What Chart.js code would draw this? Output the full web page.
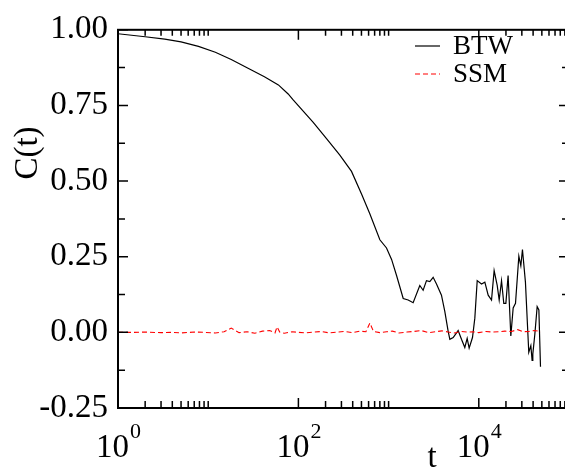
<!DOCTYPE html>
<html>
<head>
<meta charset="utf-8">
<script src="https://cdn.jsdelivr.net/npm/chart.js@4.4.1/dist/chart.umd.min.js"></script>
<style>
  html, body { margin: 0; padding: 0; background: #fff; overflow: hidden; }
  #wrap { width: 600px; height: 469px; }
</style>
</head>
<body>
<div id="wrap"><canvas id="corrChart" width="600" height="469"></canvas></div>
<script>
// autocorrelation C(t), BTW sandpile
const btwT = [1, 2, 3.3, 5, 7.8, 12, 18, 28, 42, 60, 77, 87, 146, 205, 288, 388, 501, 619, 800, 948, 1079, 1225, 1452, 1648, 1871,
    2218, 2415, 2630, 2864, 3119, 3396, 3855, 4198, 4571, 4775, 5200, 5902, 6427, 6998, 7430, 7816,
    8511, 9036, 9600, 10715, 11668, 12706, 13836, 14791, 15996, 16827, 17865, 18923, 19953, 21135,
    22646, 24044, 25527, 27797, 29242, 30479, 32885, 35810, 37757, 38994, 39719, 41783, 44361, 46345, 48306];
const btwC = [0.987, 0.977, 0.969, 0.960, 0.945, 0.926, 0.902, 0.872, 0.845, 0.818, 0.788, 0.769, 0.694, 0.640, 0.586, 0.532, 0.457, 0.392, 0.306, 0.279, 0.241, 0.188, 0.112, 0.107, 0.098,
    0.155, 0.139, 0.171, 0.168, 0.182, 0.160, 0.123, 0.069, 0.004, -0.023, -0.017, 0.006, -0.023, -0.050, -0.020, -0.052,
    -0.017, 0.047, 0.171, 0.160, 0.166, 0.123, 0.107, 0.204, 0.155, 0.107, 0.171, 0.096, 0.096, 0.188,
    -0.012, 0.081, 0.096, 0.252, 0.220, 0.274, 0.166, -0.066, -0.044, -0.093, -0.071, -0.007, 0.085, 0.074, -0.114];

// SSM stays around zero
const ssmT = [1, 1.5, 2, 3, 4, 5, 7, 9, 12, 15, 18, 22, 27, 33, 40, 48, 55, 58, 62, 70, 85, 100, 120, 150, 180,
    220, 270, 330, 400, 480, 560, 620, 680, 800, 950, 1100, 1300, 1600, 1900, 2300, 2800, 3300, 3900, 4600,
    5400, 6300, 7400, 8700, 10000, 12000, 14000, 16500, 19500, 23000, 27000, 31000, 36000, 41000, 46000, 48300];
const ssmC = [0, 0, 0.001, -0.001, 0, -0.002, 0.001, 0, -0.002, 0.002, 0.014, -0.001, 0.002, -0.003, 0.004, 0.006, -0.002, 0.018, 0.001, -0.003, 0.002, 0, -0.002, 0.001, 0.003,
    -0.002, 0.001, 0.003, -0.001, 0.004, 0.002, 0.031, 0.003, -0.001, 0.002, 0.004, -0.002, 0.001, 0.003, 0.006,
    -0.001, 0.002, 0.005, 0.001, -0.002, 0.003, 0.001, 0.002, -0.001, 0.003, 0.001, 0.002, 0.004, 0.003, 0.009, 0.002, 0.003, 0.006, 0.004, 0.001];

const seriesLabels = ['BTW', 'SSM'];
const yTickStep = 0.25;
const xMajorDecades = [1, 100, 10000];

const serif = "'Liberation Serif', 'Times New Roman', serif";

function toPoints(xs, ys) {
    return xs.map((x, i) => ({ x: x, y: ys[i] }));
}

// frame with inward ticks on all four sides, exponent labels, axis titles, legend
const decorations = {
    id: 'decorations',
    afterDraw(chart) {
        const ctx = chart.ctx;
        const a = chart.chartArea;
        const xs = chart.scales.x;
        const ys = chart.scales.y;
        ctx.save();
        ctx.strokeStyle = '#000';
        ctx.fillStyle = '#000';

        ctx.lineWidth = 2;
        ctx.strokeRect(a.left, a.top, a.right - a.left, a.bottom - a.top);

        ctx.lineWidth = 1.5;
        ctx.beginPath();
        xMajorDecades.forEach(m => {
            const px = xs.getPixelForValue(m);
            ctx.moveTo(px, a.bottom); ctx.lineTo(px, a.bottom - 10);
            ctx.moveTo(px, a.top); ctx.lineTo(px, a.top + 10);
            for (let k = 2; k <= 10; k++) {
                const mx = xs.getPixelForValue(m * k);
                ctx.moveTo(mx, a.bottom); ctx.lineTo(mx, a.bottom - 7);
                ctx.moveTo(mx, a.top); ctx.lineTo(mx, a.top + 6);
            }
        });
        for (let v = ys.min; v <= ys.max + 1e-9; v += yTickStep / 2) {
            const py = ys.getPixelForValue(v);
            const major = Math.abs(v / yTickStep - Math.round(v / yTickStep)) < 1e-6;
            const len = major ? 10 : 7;
            ctx.moveTo(a.left, py); ctx.lineTo(a.left + len, py);
            ctx.moveTo(a.right, py); ctx.lineTo(a.right - len, py);
        }
        ctx.stroke();

        // 10^n labels under the major ticks
        ctx.textBaseline = 'alphabetic';
        ctx.textAlign = 'left';
        xMajorDecades.forEach(m => {
            const px = xs.getPixelForValue(m);
            const exp = String(Math.round(Math.log10(m)));
            ctx.font = '33px ' + serif;
            const wBase = ctx.measureText('10').width;
            ctx.font = '22px ' + serif;
            const wExp = ctx.measureText(exp).width;
            const x0 = px - (wBase + wExp) / 2;
            ctx.font = '33px ' + serif;
            ctx.fillText('10', x0, 457);
            ctx.font = '22px ' + serif;
            ctx.fillText(exp, x0 + wBase + 1, 438);
        });

        ctx.font = '33px ' + serif;
        ctx.textAlign = 'center';
        ctx.fillText('t', 432, 467);

        ctx.save();
        ctx.translate(28, 153);
        ctx.rotate(-Math.PI / 2);
        ctx.textBaseline = 'middle';
        ctx.fillText('C(t)', 0, 0);
        ctx.restore();

        // legend
        ctx.font = '27px ' + serif;
        ctx.textAlign = 'left';
        seriesLabels.forEach((label, i) => {
            const ds = chart.data.datasets.find(d => d.label === label);
            const ly = 46 + i * 28;
            ctx.beginPath();
            ctx.strokeStyle = ds.borderColor;
            ctx.lineWidth = 1.2;
            ctx.setLineDash(ds.borderDash || []);
            ctx.moveTo(415, ly);
            ctx.lineTo(440, ly);
            ctx.stroke();
            ctx.setLineDash([]);
            ctx.fillStyle = '#000';
            ctx.fillText(label, 453, ly + 8);
        });
        ctx.restore();
    }
};

const chart = new Chart(document.getElementById('corrChart'), {
    type: 'line',
    data: {
        datasets: [{
            label: 'BTW',
            data: toPoints(btwT, btwC),
            borderColor: '#000',
            borderWidth: 1.2,
            pointRadius: 0,
            tension: 0,
            order: 2
        }, {
            label: 'SSM',
            data: toPoints(ssmT, ssmC),
            borderColor: '#ff0000',
            borderWidth: 1.1,
            borderDash: [5, 3],
            pointRadius: 0,
            tension: 0,
            order: 1
        }]
    },
    options: {
        responsive: false,
        animation: false,
        layout: { padding: { top: 22, right: 31, left: 0, bottom: 0 } },
        plugins: { legend: { display: false }, tooltip: { enabled: false } },
        scales: {
            x: {
                type: 'logarithmic',
                min: 1,
                max: 100000,
                grid: { display: false },
                border: { display: false },
                ticks: { display: false },
                afterFit: scale => { scale.height = 61; }
            },
            y: {
                min: -0.25,
                max: 1,
                grid: { display: false, drawTicks: false },
                border: { display: false },
                ticks: {
                    stepSize: yTickStep,
                    padding: 10,
                    color: '#000',
                    font: { family: serif, size: 33 },
                    callback: v => v.toFixed(2)
                },
                afterFit: scale => { scale.width = 118; }
            }
        }
    },
    plugins: [decorations]
});
</script>
</body>
</html>
